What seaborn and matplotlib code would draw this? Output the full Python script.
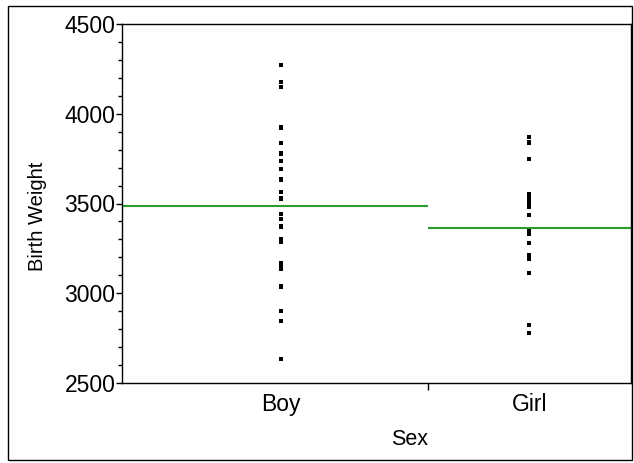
import numpy as np
import pandas as pd
import matplotlib
matplotlib.use("Agg")
import matplotlib.pyplot as plt
from matplotlib.patches import Rectangle
from matplotlib.ticker import MultipleLocator
import seaborn as sns

# ---- data ----
categories = ["Boy", "Girl"]
boy_weights = [4271, 4175, 4150, 3923, 3839, 3779, 3736, 3690, 3634, 3563, 3528,
               3440, 3415, 3372, 3300, 3285, 3170, 3154, 3137, 3038, 2902, 2846, 2634]
girl_weights = [3870, 3840, 3746, 3550, 3528, 3506, 3483, 3435, 3350, 3330, 3280,
                3215, 3193, 3113, 2824, 2779]
group_means = [3485, 3363]
y_ticks = [2500, 3000, 3500, 4000, 4500]

df = pd.DataFrame({
    "Sex": ["Boy"] * len(boy_weights) + ["Girl"] * len(girl_weights),
    "Birth Weight": boy_weights + girl_weights,
})

# layout (positions along a 0..1 x axis)
cat_pos = {"Boy": 0.312, "Girl": 0.80}
divider = 0.601
spans = {"Boy": (0.0, divider), "Girl": (divider, 1.0)}
df["xpos"] = df["Sex"].map(cat_pos)

sns.set_style("white")
plt.rcParams["font.family"] = ["Liberation Sans", "DejaVu Sans"]
plt.rcParams["text.color"] = "black"
plt.rcParams["axes.labelcolor"] = "black"
plt.rcParams["xtick.color"] = "black"
plt.rcParams["ytick.color"] = "black"

W, H = 634, 463
fig = plt.figure(figsize=(W / 100, H / 100), dpi=100)
ax = fig.add_axes([122 / W, 1 - 383 / H, (631 - 122) / W, (383 - 24) / H])

sns.scatterplot(data=df, x="xpos", y="Birth Weight", ax=ax, marker="s",
                s=9, color="black", edgecolor="none", linewidth=0, legend=False)

for cat, m in zip(categories, group_means):
    x0, x1 = spans[cat]
    ax.plot([x0, x1], [m, m], color="#2a9d2a", lw=1.5, solid_capstyle="butt")

ax.set_xlim(0, 1)
ax.set_ylim(2500, 4500)
ax.set_yticks(y_ticks)
ax.yaxis.set_minor_locator(MultipleLocator(100))
ax.set_xticks([cat_pos[c] for c in categories])
ax.set_xticklabels(categories)
ax.set_xticks([divider], minor=True)

ax.tick_params(axis="y", which="major", direction="out", length=4.3, width=1,
               labelsize=16.5, pad=0.5, left=True, labelcolor="black")
ax.tick_params(axis="y", which="minor", direction="out", length=3, width=1,
               left=True)
ax.tick_params(axis="x", which="major", length=0, labelsize=16.5, pad=7,
               labelcolor="black")
ax.tick_params(axis="x", which="minor", direction="out", length=5, width=1,
               bottom=True)

ax.set_xlabel("Sex", fontsize=15.5)
ax.set_ylabel("Birth Weight", fontsize=14.5)
ax.xaxis.set_label_coords(0.564, (383 - 429) / 359)
ax.yaxis.set_label_coords((47 - 122) / 509, (383 - 216) / 359)

for s in ax.spines.values():
    s.set_visible(True)
    s.set_color("black")
    s.set_linewidth(1)

fig.patches.append(Rectangle((8 / W, 3 / H), (632 - 8) / W, (457 - 3) / H,
                             transform=fig.transFigure, fill=False,
                             edgecolor="black", linewidth=1))

fig.savefig("out.png", dpi=100)
